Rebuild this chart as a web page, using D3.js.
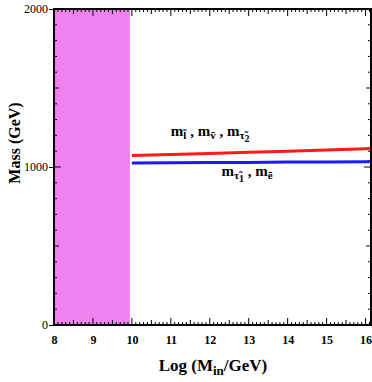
<!DOCTYPE html>
<html>
<head>
<meta charset="utf-8">
<script src="https://cdn.jsdelivr.net/npm/d3@7"></script>
<style>
  body { margin: 0; background: #fff; }
  text { font-family: "Liberation Serif", "Times New Roman", Times, serif; }
</style>
</head>
<body>
<div id="viz"></div>
<script>
// excluded region (log Min below 10)
const shadedRange = [8, 10];
// slepton masses vs Log(Min/GeV)
const logMin = [10, 11, 12, 13, 14, 15, 16, 16.15];
const heavyMass = [1072, 1079, 1086, 1093, 1100, 1107, 1116, 1118];
const lightMass = [1026, 1027, 1028, 1029, 1031, 1032, 1034, 1035];
const xTicks = [8, 9, 10, 11, 12, 13, 14, 15, 16];
const yTicks = [0, 1000, 2000];

const dims = {
  width: 372, height: 382,
  margin: {top: 9, right: 1, bottom: 57, left: 54}
};
dims.boundedWidth = dims.width - dims.margin.left - dims.margin.right;
dims.boundedHeight = dims.height - dims.margin.top - dims.margin.bottom;

const svg = d3.select('#viz').append('svg')
  .attr('width', dims.width)
  .attr('height', dims.height);

const chart = svg.append('g')
  .attr('transform', `translate(${dims.margin.left},${dims.margin.top})`);

const xScale = d3.scaleLinear().domain([8, 16.14]).range([0, dims.boundedWidth]);
const yScale = d3.scaleLinear().domain([0, 2000]).range([dims.boundedHeight, 0]);

// shaded band
chart.append('rect')
  .attr('x', xScale(shadedRange[0]))
  .attr('y', 0)
  .attr('width', xScale(shadedRange[1]) - xScale(shadedRange[0]) - 2)
  .attr('height', dims.boundedHeight)
  .attr('fill', 'violet');

// lines
const line = d3.line().x((d, i) => xScale(logMin[i])).y(d => yScale(d));
chart.append('path').attr('d', line(heavyMass))
  .attr('fill', 'none').attr('stroke', '#ff1a1a').attr('stroke-width', 3);
chart.append('path').attr('d', line(lightMass))
  .attr('fill', 'none').attr('stroke', '#1a1aff').attr('stroke-width', 3);

// minor ticks (inward on all four sides)
const xMinor = d3.range(80, 162).map(d => d / 10);
const yMinor = d3.range(0, 2001, 100);
const tickLen = v => (Math.abs(v - Math.round(v)) < 1e-6 ? 7 : Math.abs(v * 2 - Math.round(v * 2)) < 1e-6 ? 5 : 3);
const ticks = chart.append('g').attr('stroke', '#000').attr('stroke-width', 1);
xMinor.forEach(v => {
  const x = xScale(v), l = tickLen(v);
  ticks.append('line').attr('x1', x).attr('x2', x).attr('y1', dims.boundedHeight).attr('y2', dims.boundedHeight - l);
  ticks.append('line').attr('x1', x).attr('x2', x).attr('y1', 0).attr('y2', l);
});
yMinor.forEach(v => {
  const y = yScale(v), l = v % 1000 === 0 ? 7 : v % 500 === 0 ? 5 : 3;
  ticks.append('line').attr('x1', 0).attr('x2', l).attr('y1', y).attr('y2', y);
  ticks.append('line').attr('x1', dims.boundedWidth).attr('x2', dims.boundedWidth - l).attr('y1', y).attr('y2', y);
});

// frame
chart.append('rect')
  .attr('width', dims.boundedWidth).attr('height', dims.boundedHeight)
  .attr('fill', 'none').attr('stroke', '#000').attr('stroke-width', 2);

// axes labels
const xAxis = chart.append('g')
  .attr('transform', `translate(0,${dims.boundedHeight})`)
  .call(d3.axisBottom(xScale).tickValues(xTicks).tickSize(0).tickPadding(10));
xAxis.select('.domain').remove();
xAxis.attr('font-family', null);
xAxis.selectAll('text')
  .style('font-size', '12px').style('font-weight', 'bold').attr('fill', '#000');

const yAxis = chart.append('g')
  .call(d3.axisLeft(yScale).tickValues(yTicks).tickFormat(d3.format('d')).tickSize(5).tickPadding(1));
yAxis.select('.domain').remove();
yAxis.attr('font-family', null);
yAxis.selectAll('text')
  .style('font-size', '12px').attr('fill', '#000');

// axis titles
const xTitle = svg.append('text')
  .attr('x', 213).attr('y', 371)
  .attr('text-anchor', 'middle')
  .style('font-size', '17px').style('font-weight', 'bold');
xTitle.append('tspan').text('Log (M');
xTitle.append('tspan').attr('dy', 4).style('font-size', '13px').text('in');
xTitle.append('tspan').attr('dy', -4).text('/GeV)');

svg.append('text')
  .attr('transform', 'translate(20,143) rotate(-90)')
  .attr('text-anchor', 'middle')
  .style('font-size', '16px').style('font-weight', 'bold')
  .text('Mass (GeV)');

// curve labels
function subLabel(x, y, parts) {
  const t = chart.append('text').attr('x', xScale(x)).attr('y', yScale(y))
    .style('font-size', '15px').style('font-weight', 'bold');
  parts.forEach(p => {
    t.append('tspan').text(p[0]);
    t.append('tspan').attr('dy', 3).style('font-size', '11px').text(p[1]);
    if (p[2]) t.append('tspan').attr('dy', 3).style('font-size', '10px').text(p[2]);
    t.append('tspan').attr('dy', p[2] ? -6 : -3).text(p[3] || '');
  });
}
subLabel(11, 1195, [['m', 'l\u0303', null, ' , '], ['m', 'v\u0303', null, ' , '], ['m', '\u03c4\u0303', '2', '']]);
subLabel(12.3, 943, [['m', '\u03c4\u0303', '1', ' , '], ['m', 'e\u0303', null, '']]);
</script>
</body>
</html>
